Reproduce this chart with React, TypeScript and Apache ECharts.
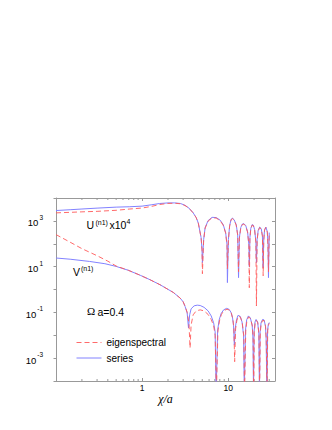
import React, { useEffect, useRef } from 'react';
import * as echarts from 'echarts';

// ---- data (x = chi/a, y = amplitude) ----
const uSeries: [number, number][] = [
  [0.1, 2830], [0.146, 3070], [0.2, 3300], [0.3, 3610], [0.5, 3990], [0.72, 4150], [1, 4410],
  [1.3, 5080], [1.6, 5740], [2, 6100], [2.4, 6100], [2.8, 5740], [3.15, 4790], [3.5, 3640],
  [3.9, 2310], [4.25, 1400], [4.5, 800], [4.7, 340], [4.85, 185], [4.97, 55], [5.02, 15],
  [5.19, 151], [5.4, 508], [5.85, 1030], [6.5, 1425], [7.25, 1397], [8.05, 1084], [8.75, 689],
  [9.35, 307], [9.7, 91], [9.8, 2],
  [10.06, 151], [10.4, 620], [10.8, 1140], [11.2, 1330], [11.7, 1140], [12.4, 689], [12.9, 250], [13.2, 3.3],
  [13.5, 185], [14, 508], [14.6, 723], [15.2, 762], [16, 620], [16.8, 340], [17.4, 91], [17.6, 10],
  [17.9, 185], [18.3, 460], [19, 689], [19.6, 650], [20.3, 415], [21, 124], [21.3, 15],
  [21.7, 151], [22.3, 375], [23.2, 535], [24.2, 460], [25, 227], [25.5, 8.9],
  [25.9, 151], [26.5, 415], [27.4, 535], [28.5, 340], [29, 91], [29.4, 3.3],
  [30, 307],
];

const uEigen: [number, number][] = [
  [0.1, 2240], [0.146, 2360], [0.2, 2480], [0.3, 2610], [0.5, 2900], [0.72, 3300], [1, 3640],
  [1.3, 4330], [1.6, 5190], [2, 5800], [2.4, 5900], [2.8, 5600], [3.15, 4700], [3.5, 3600],
  [3.9, 2280], [4.25, 1380], [4.5, 790], [4.7, 335], [4.85, 180], [4.97, 50], [5.02, 4.9],
  [5.19, 140], [5.4, 480], [5.85, 980], [6.5, 1350], [7.25, 1330], [8.05, 1030], [8.75, 650],
  [9.35, 290], [9.7, 85], [9.8, 8],
  [10.06, 140], [10.4, 590], [10.8, 1080], [11.2, 1260], [11.7, 1080], [12.4, 650], [12.9, 235], [13.2, 6],
  [13.5, 175], [14, 480], [14.6, 690], [15.2, 725], [16, 590], [16.8, 320], [17.4, 85], [17.6, 1.2],
  [17.9, 175], [18.3, 440], [19, 650], [19.6, 620], [20.3, 395], [21, 115], [21.3, 0.19],
  [21.7, 140], [22.3, 355], [23.2, 510], [24.2, 440], [25, 215], [25.5, 4],
  [25.9, 140], [26.5, 395], [27.4, 510], [28.5, 320], [29, 85], [29.4, 6],
  [30, 290],
];

const vSeries: [number, number][] = [
  [0.1, 23.8], [0.146, 21.1], [0.244, 16.9], [0.37, 13.4], [0.5, 10.2], [0.69, 6.95], [0.95, 4.2],
  [1.24, 2.66], [1.62, 1.61], [1.95, 1.07], [2.31, 0.74], [2.77, 0.42], [3, 0.29], [3.16, 0.18],
  [3.34, 0.095], [3.46, 0.021], [3.57, 0.078], [3.71, 0.143], [4.02, 0.193], [4.37, 0.207],
  [4.73, 0.2], [5.25, 0.166], [5.85, 0.116], [6.35, 0.07], [6.78, 0.035], [7.06, 0.014], [7.25, 0.00003],
  [7.55, 0.017], [7.86, 0.047], [8.3, 0.09], [8.86, 0.129], [9.6, 0.15], [10.26, 0.135], [10.8, 0.1],
  [11.25, 0.057], [11.55, 0.026], [11.8, 0.0037],
  [12.1, 0.021], [12.5, 0.047], [13, 0.074], [13.8, 0.067], [14.5, 0.038], [15.1, 0.01], [15.4, 0.00003],
  [15.9, 0.017], [16.4, 0.047], [17.2, 0.07], [18.1, 0.057], [19, 0.028], [19.4, 0.0076], [19.7, 0.00003],
  [20, 0.014], [20.5, 0.038], [21.1, 0.049], [22, 0.038], [22.7, 0.0115], [23.1, 0.00003],
  [23.5, 0.014], [24.1, 0.035], [25.1, 0.049], [26.1, 0.047], [27.1, 0.026], [27.6, 0.0076], [28.2, 0.00003],
  [28.7, 0.017], [29.3, 0.03], [30, 0.036],
];

const vEigen: [number, number][] = [
  [0.1, 251], [0.146, 117], [0.2, 61], [0.3, 30], [0.4, 17.3], [0.5, 10.6], [0.69, 6.95], [0.95, 4.2],
  [1.24, 2.66], [1.62, 1.61], [1.95, 1.07], [2.31, 0.74], [2.77, 0.42], [3, 0.29], [3.16, 0.185],
  [3.34, 0.1], [3.5, 0.035], [3.61, 0.0028], [3.71, 0.028], [3.92, 0.078], [4.25, 0.116], [4.73, 0.129],
  [5.25, 0.116], [5.85, 0.081], [6.35, 0.049], [6.78, 0.026], [7.06, 0.01], [7.3, 0.00003],
  [7.6, 0.015], [7.92, 0.042], [8.35, 0.082], [8.9, 0.118], [9.7, 0.138], [10.35, 0.125], [10.9, 0.092],
  [11.35, 0.05], [11.65, 0.02], [11.9, 0.0007],
  [12.2, 0.019], [12.6, 0.043], [13.1, 0.068], [13.9, 0.062], [14.6, 0.034], [15.2, 0.009], [15.5, 0.00003],
  [16, 0.015], [16.5, 0.043], [17.3, 0.064], [18.2, 0.052], [19.1, 0.025], [19.5, 0.007], [19.8, 0.00003],
  [20.1, 0.013], [20.6, 0.035], [21.2, 0.045], [22.1, 0.035], [22.8, 0.0105], [23.2, 0.00003],
  [23.6, 0.013], [24.2, 0.032], [25.2, 0.045], [26.2, 0.043], [27.2, 0.024], [27.7, 0.007], [28.3, 0.00003],
  [28.8, 0.016], [29.4, 0.028], [30, 0.033],
];

const minorTicksX = [0.2, 0.3, 0.4, 0.5, 0.6, 0.7, 0.8, 0.9, 2, 3, 4, 5, 6, 7, 8, 9, 20, 30];
const xLabelValues = [1, 10];
const yLabelExponents = [3, 1, -1, -3];
const X_MIN = 0.1;
const X_MAX = 35;
const Y_MIN = 1e-4;
const Y_MAX = 1e4;

const SANS = 'Liberation Sans';
const SERIF = 'Liberation Serif';
const AXIS_GRAY = '#999999';
const RED = '#ff5a5a';
const BLUE = '#8282ff';

function isPow10(v: number): number | null {
  const l = Math.log10(v);
  const e = Math.round(l);
  return Math.abs(l - e) < 1e-6 ? e : null;
}

export default function App() {
  const ref = useRef<HTMLDivElement>(null);
  useEffect(() => {
    document.body.style.margin = '0';
    const chart = echarts.init(ref.current!, null, { renderer: 'svg' });
    const grid = { left: 56, right: 57, top: 198, bottom: 49 };
    const xBase = {
      type: 'log' as const,
      logBase: 10,
      min: X_MIN,
      max: X_MAX,
      splitLine: { show: false },
      axisLine: { lineStyle: { color: AXIS_GRAY, width: 1 } },
      axisTick: { inside: true, length: 3, lineStyle: { color: AXIS_GRAY } },
    };
    const yBase = {
      type: 'log' as const,
      logBase: 10,
      min: Y_MIN,
      max: Y_MAX,
      interval: 1,
      splitLine: { show: false },
      axisLine: { lineStyle: { color: AXIS_GRAY, width: 1 } },
    };
    chart.setOption({
      animation: false,
      textStyle: { fontFamily: SANS },
      grid,
      legend: {
        orient: 'vertical',
        left: 76,
        top: 337.5,
        itemWidth: 25,
        itemHeight: 10,
        itemGap: 5.5,
        padding: 0,
        itemStyle: { color: 'transparent', borderWidth: 0, opacity: 0 },
        lineStyle: { width: 1 },
        textStyle: { fontSize: 10, color: '#000', fontFamily: SANS },
        data: ['eigenspectral', 'series'],
      },
      xAxis: [
        {
          ...xBase,
          position: 'bottom',
          name: 'χ/a',
          nameLocation: 'middle',
          nameGap: 8,
          nameTextStyle: { fontFamily: SERIF, fontStyle: 'italic', fontSize: 12, color: '#000' },
          axisLabel: {
            margin: 2,
            fontSize: 8.5,
            color: '#000',
            showMinLabel: false,
            showMaxLabel: false,
            formatter: (v: number) => {
              const e = isPow10(v);
              if (e === null) return '';
              const val = Math.pow(10, e);
              return xLabelValues.includes(val) ? String(val) : '';
            },
          },
        },
        {
          ...xBase,
          position: 'top',
          axisLabel: { show: false },
        },
      ],
      yAxis: [
        {
          ...yBase,
          position: 'left',
          axisTick: { inside: false, length: 2.5, lineStyle: { color: AXIS_GRAY } },
          axisLabel: {
            margin: 13,
            color: '#000',
            formatter: (v: number) => {
              const e = isPow10(v);
              if (e === null || !yLabelExponents.includes(e)) return '';
              return `{b|10}{s|${e}}`;
            },
            rich: {
              b: { fontSize: 9.5, lineHeight: 14, verticalAlign: 'bottom', fontFamily: SANS, color: '#000' },
              s: { fontSize: 6.5, lineHeight: 8, verticalAlign: 'top', fontFamily: SANS, color: '#000', padding: [0, 0, 0, 1] },
            },
          },
        },
        {
          ...yBase,
          position: 'right',
          axisTick: { inside: true, length: 3, lineStyle: { color: AXIS_GRAY } },
          axisLabel: { show: false },
        },
      ],
      series: [
        {
          name: 'series', type: 'line', data: uSeries, symbol: 'none',
          lineStyle: { color: BLUE, width: 1 }, itemStyle: { color: BLUE }, z: 2,
        },
        {
          name: 'series', type: 'line', data: vSeries, symbol: 'none',
          lineStyle: { color: BLUE, width: 1 }, itemStyle: { color: BLUE }, z: 2,
        },
        {
          name: 'eigenspectral', type: 'line', data: uEigen, symbol: 'none',
          lineStyle: { color: RED, width: 1, type: [5, 3], opacity: 0.9 }, itemStyle: { color: RED }, z: 3,
        },
        {
          name: 'eigenspectral', type: 'line', data: vEigen, symbol: 'none',
          lineStyle: { color: RED, width: 1, type: [5, 3], opacity: 0.9 }, itemStyle: { color: RED }, z: 3,
        },
        {
          type: 'custom',
          silent: true,
          data: minorTicksX.map((x) => [x, 1]),
          renderItem: (_p: any, api: any) => {
            const x = api.value(0);
            const pb = api.coord([x, Y_MIN]);
            const pt = api.coord([x, Y_MAX]);
            return {
              type: 'group',
              children: [
                { type: 'line', shape: { x1: pb[0], y1: pb[1], x2: pb[0], y2: pb[1] - 2 }, style: { stroke: AXIS_GRAY, lineWidth: 1 } },
                { type: 'line', shape: { x1: pt[0], y1: pt[1], x2: pt[0], y2: pt[1] + 2 }, style: { stroke: AXIS_GRAY, lineWidth: 1 } },
              ],
            };
          },
          z: 1,
        },
      ],
      graphic: [
        { type: 'text', left: 86.5, top: 219, style: { text: 'U', fontSize: 10.5, fontFamily: SANS, fill: '#000' } },
        { type: 'text', left: 95.5, top: 218.5, style: { text: '(n1)', fontSize: 7, fontFamily: SANS, fill: '#000' } },
        { type: 'text', left: 109.5, top: 219, style: { text: 'x10', fontSize: 10.5, fontFamily: SANS, fill: '#000' } },
        { type: 'text', left: 126.5, top: 218, style: { text: '4', fontSize: 7, fontFamily: SANS, fill: '#000' } },
        { type: 'text', left: 73, top: 266.5, style: { text: 'V', fontSize: 10.5, fontFamily: SANS, fill: '#000' } },
        { type: 'text', left: 81, top: 264.5, style: { text: '(n1)', fontSize: 7, fontFamily: SANS, fill: '#000' } },
        { type: 'text', left: 87, top: 305.5, style: { text: 'Ω', fontSize: 11, fontFamily: SERIF, fill: '#000' } },
        { type: 'text', left: 97.5, top: 306, style: { text: 'a=0.4', fontSize: 10.5, fontFamily: SANS, fill: '#000' } },
      ],
    });
    return () => chart.dispose();
  }, []);
  return <div ref={ref} style={{ width: 332, height: 430 }} />;
}
